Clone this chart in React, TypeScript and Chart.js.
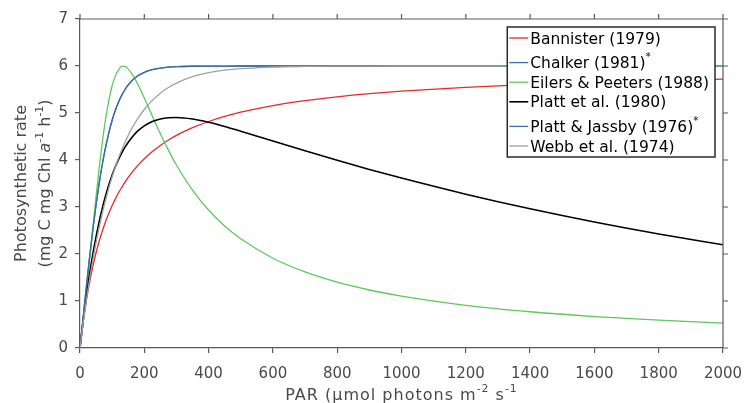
import React, { useEffect, useRef } from "react";
import { Chart, registerables } from "chart.js";

Chart.register(...registerables);

// PAR values (µmol photons m-2 s-1)
const parValues = [0, 10, 20, 30, 40, 50, 60, 70, 80, 90, 100, 110, 120, 130, 140, 150, 160, 180, 200, 225, 250, 275, 300, 350, 400, 450, 500, 600, 700, 800, 900, 1000, 1200, 1400, 1600, 1800, 2000];

const bannister = [0, 0.556, 1.017, 1.406, 1.739, 2.027, 2.278, 2.5, 2.697, 2.872, 3.03, 3.173, 3.303, 3.421, 3.529, 3.629, 3.721, 3.885, 4.027, 4.18, 4.31, 4.424, 4.523, 4.688, 4.819, 4.927, 5.017, 5.158, 5.263, 5.345, 5.411, 5.464, 5.547, 5.607, 5.654, 5.69, 5.72];
const chalker = [0, 0.669, 1.322, 1.944, 2.522, 3.048, 3.518, 3.931, 4.285, 4.589, 4.846, 5.059, 5.236, 5.38, 5.5, 5.597, 5.675, 5.791, 5.866, 5.923, 5.956, 5.975, 5.986, 5.995, 5.998, 5.999, 6, 6, 6, 6, 6, 6, 6, 6, 6, 6, 6];
const eilersPeeters = [0, 0.584, 1.218, 1.884, 2.562, 3.225, 3.849, 4.409, 4.89, 5.281, 5.58, 5.79, 5.92, 5.99, 5.99, 5.934, 5.85, 5.613, 5.321, 4.934, 4.559, 4.21, 3.894, 3.36, 2.935, 2.597, 2.323, 1.91, 1.618, 1.401, 1.234, 1.103, 0.908, 0.771, 0.669, 0.592, 0.53];
const plattEtAl = [0, 0.59, 1.116, 1.584, 2.001, 2.37, 2.699, 2.991, 3.249, 3.478, 3.68, 3.858, 4.015, 4.153, 4.274, 4.379, 4.47, 4.618, 4.727, 4.819, 4.873, 4.9, 4.905, 4.872, 4.802, 4.714, 4.614, 4.405, 4.196, 3.994, 3.8, 3.616, 3.273, 2.962, 2.681, 2.427, 2.197];
const plattJassby = [0, 0.669, 1.322, 1.944, 2.522, 3.048, 3.518, 3.931, 4.285, 4.589, 4.846, 5.059, 5.236, 5.38, 5.5, 5.597, 5.675, 5.791, 5.866, 5.923, 5.956, 5.975, 5.986, 5.995, 5.998, 5.999, 6, 6, 6, 6, 6, 6, 6, 6, 6, 6, 6];
const webb = [0, 0.536, 1.023, 1.468, 1.873, 2.24, 2.576, 2.882, 3.16, 3.413, 3.644, 3.855, 4.046, 4.22, 4.379, 4.524, 4.656, 4.885, 5.075, 5.269, 5.421, 5.542, 5.637, 5.773, 5.858, 5.911, 5.944, 5.978, 5.991, 5.997, 5.999, 6, 6, 6, 6, 6, 6];

const seriesNames = ["Bannister (1979)", "Chalker (1981)", "Eilers & Peeters (1988)", "Platt et al. (1980)", "Platt & Jassby (1976)", "Webb et al. (1974)"];
const seriesNotes = ["", "*", "", "", "*", ""];
const seriesValues = [bannister, chalker, eilersPeeters, plattEtAl, plattJassby, webb];
const seriesColors = ["#e8282b", "#3a6ea8", "#5ec85b", "#000000", "#3a6ea8", "#a0a0a0"];
const seriesWidths = [1.3, 1.3, 1.3, 1.6, 1.3, 1.3];

const xTicks = [0, 200, 400, 600, 800, 1000, 1200, 1400, 1600, 1800, 2000];
const yTicks = [0, 1, 2, 3, 4, 5, 6, 7];

const FONT = '"DejaVu Sans", sans-serif';
const AXIS_COLOR = "#5a5a5a";
const TEXT_COLOR = "#4a4a4a";

type Seg = { t: string; sup?: boolean; it?: boolean };

function segFont(s: Seg, size: number) {
  return `${s.it ? "italic " : ""}${s.sup ? size * 0.68 : size}px ${FONT}`;
}

function drawRich(ctx: CanvasRenderingContext2D, segs: Seg[], x: number, y: number, size: number, align: "left" | "center", supRaise: number) {
  let total = 0;
  const widths = segs.map((s) => {
    ctx.font = segFont(s, size);
    const w = ctx.measureText(s.t).width;
    total += w;
    return w;
  });
  let cx = align === "center" ? x - total / 2 : x;
  ctx.textAlign = "left";
  ctx.textBaseline = "alphabetic";
  segs.forEach((s, i) => {
    ctx.font = segFont(s, size);
    ctx.fillText(s.t, cx, s.sup ? y - size * supRaise : y);
    cx += widths[i];
  });
  return total;
}

const yTitle1: Seg[] = [{ t: "Photosynthetic rate" }];
const yTitle2: Seg[] = [
  { t: "(mg C mg Chl " },
  { t: "a", it: true },
  { t: "-1", sup: true },
  { t: " h" },
  { t: "-1", sup: true },
  { t: ")" },
];
const xTitle: Seg[] = [
  { t: "PAR (µmol photons m" },
  { t: "-2", sup: true },
  { t: " s" },
  { t: "-1", sup: true },
];

const framePlugin = {
  id: "frameAndLegend",
  afterDraw(chart: any) {
    const ctx: CanvasRenderingContext2D = chart.ctx;
    const { left, right, top, bottom } = chart.chartArea;
    const xs = chart.scales.x;
    const ys = chart.scales.y;
    ctx.save();
    // top and right frame with outward ticks
    ctx.strokeStyle = AXIS_COLOR;
    ctx.lineWidth = 1.2;
    ctx.beginPath();
    ctx.moveTo(left, top);
    ctx.lineTo(right, top);
    ctx.lineTo(right, bottom);
    xTicks.forEach((v) => {
      const px = xs.getPixelForValue(v);
      ctx.moveTo(px, top);
      ctx.lineTo(px, top - 5);
    });
    yTicks.forEach((v) => {
      const py = ys.getPixelForValue(v);
      ctx.moveTo(right, py);
      ctx.lineTo(right + 5, py);
    });
    ctx.stroke();

    // axis titles
    ctx.fillStyle = TEXT_COLOR;
    const anyCtx = ctx as any;
    anyCtx.letterSpacing = "1px";
    drawRich(ctx, xTitle, (left + right) / 2, 399.5, 16, "center", 0.45);
    anyCtx.letterSpacing = "0px";
    const cy = (top + bottom) / 2;
    ctx.save();
    ctx.translate(26, cy);
    ctx.rotate(-Math.PI / 2);
    drawRich(ctx, yTitle1, 0, 0, 16, "center", 0.45);
    ctx.restore();
    ctx.save();
    ctx.translate(50, cy);
    ctx.rotate(-Math.PI / 2);
    drawRich(ctx, yTitle2, 0, 0, 16, "center", 0.45);
    ctx.restore();

    // legend
    const lsize = 15.5;
    let maxW = 0;
    const rowSegs: Seg[][] = seriesNames.map((n, i) => {
      const segs: Seg[] = [{ t: n }];
      if (seriesNotes[i]) segs.push({ t: seriesNotes[i], sup: true });
      let w = 0;
      segs.forEach((s) => {
        ctx.font = segFont(s, lsize);
        w += ctx.measureText(s.t).width;
      });
      maxW = Math.max(maxW, w);
      return segs;
    });
    const boxRight = right - 8;
    const boxTop = top + 8;
    const boxW = 23 + maxW + 6;
    const boxLeft = boxRight - boxW;
    const rowH = 19.6;
    const supExtra = 5;
    const centers: number[] = [];
    let c = boxTop + 11;
    seriesNames.forEach((_, i) => {
      if (i > 0) c += rowH + (seriesNotes[i] ? supExtra : 0);
      centers.push(c);
    });
    const boxBottom = centers[centers.length - 1] + 11;
    ctx.fillStyle = "#ffffff";
    ctx.fillRect(boxLeft, boxTop, boxW, boxBottom - boxTop);
    ctx.strokeStyle = "#2a2a2a";
    ctx.lineWidth = 1.5;
    ctx.strokeRect(boxLeft, boxTop, boxW, boxBottom - boxTop);
    seriesNames.forEach((_, i) => {
      const yc = centers[i];
      ctx.strokeStyle = seriesColors[i];
      ctx.lineWidth = seriesWidths[i];
      ctx.beginPath();
      ctx.moveTo(boxLeft + 2, yc);
      ctx.lineTo(boxLeft + 21, yc);
      ctx.stroke();
      ctx.fillStyle = "#000000";
      drawRich(ctx, rowSegs[i], boxLeft + 23, yc + 5.6, lsize, "left", 0.5);
    });
    ctx.restore();
  },
};

export default function App() {
  const canvasRef = useRef<HTMLCanvasElement | null>(null);

  useEffect(() => {
    const canvas = canvasRef.current;
    if (!canvas) return;
    const n = seriesNames.length;
    const datasets = seriesNames.map((name, i) => ({
      label: name,
      data: parValues.map((x, j) => ({ x, y: seriesValues[i][j] })),
      borderColor: seriesColors[i],
      backgroundColor: seriesColors[i],
      borderWidth: seriesWidths[i],
      pointRadius: 0,
      cubicInterpolationMode: "monotone" as const,
      fill: false,
      order: n - 1 - i,
    }));
    const chart = new Chart(canvas, {
      type: "line",
      data: { datasets },
      options: {
        animation: false,
        responsive: false,
        maintainAspectRatio: false,
        layout: { padding: { left: 0, right: 21, top: 19, bottom: 0 } },
        plugins: {
          legend: { display: false },
          tooltip: { enabled: false },
          title: { display: false },
        },
        scales: {
          x: {
            type: "linear",
            min: 0,
            max: 2000,
            afterFit: (s: any) => {
              s.height = 55;
              s.paddingLeft = 0;
              s.paddingRight = 0;
            },
            afterBuildTicks: (s: any) => {
              s.ticks = xTicks.map((v) => ({ value: v }));
            },
            grid: { drawOnChartArea: false, drawTicks: true, tickLength: 5, color: AXIS_COLOR, lineWidth: 1.2 },
            border: { color: AXIS_COLOR, width: 1.2 },
            ticks: {
              color: TEXT_COLOR,
              font: { family: FONT, size: 15 },
              padding: 12,
              maxRotation: 0,
              autoSkip: false,
              callback: (v: any) => String(v),
            },
          },
          y: {
            type: "linear",
            min: 0,
            max: 7,
            afterFit: (s: any) => {
              s.width = 80;
              s.paddingTop = 0;
              s.paddingBottom = 0;
            },
            afterBuildTicks: (s: any) => {
              s.ticks = yTicks.map((v) => ({ value: v }));
            },
            grid: { drawOnChartArea: false, drawTicks: true, tickLength: 5, color: AXIS_COLOR, lineWidth: 1.2 },
            border: { color: AXIS_COLOR, width: 1.2 },
            ticks: {
              color: TEXT_COLOR,
              font: { family: FONT, size: 15 },
              padding: 7,
              autoSkip: false,
              callback: (v: any) => String(v),
            },
          },
        },
      },
      plugins: [framePlugin],
    });
    return () => chart.destroy();
  }, []);

  return (
    <div style={{ position: "fixed", left: 0, top: 0, width: 744, height: 403, background: "#ffffff" }}>
      <canvas ref={canvasRef} width={744} height={403} style={{ display: "block", width: 744, height: 403 }} />
    </div>
  );
}
